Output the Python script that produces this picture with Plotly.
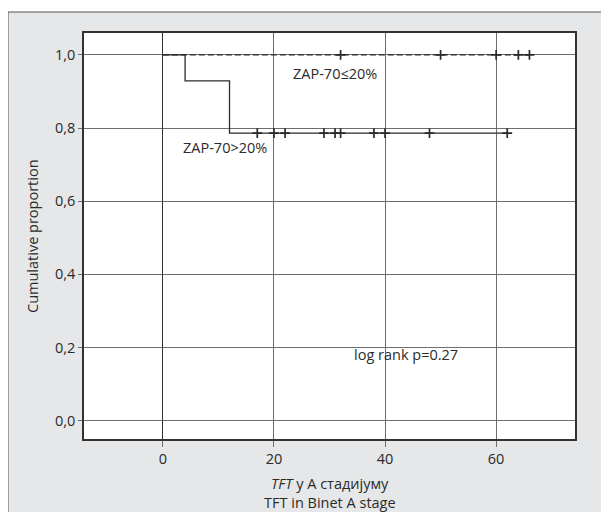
import plotly.graph_objects as go

# ZAP-70 > 20% (solid)
gt_time = [0, 4, 12, 62]
gt_surv = [1.0, 0.929, 0.786, 0.786]
gt_cens_time = [17, 20, 22, 29, 31, 32, 38, 40, 48, 62]
gt_cens_surv = [0.786] * len(gt_cens_time)

# ZAP-70 <= 20% (dashed)
le_time = [0, 66]
le_surv = [1.0, 1.0]
le_cens_time = [32, 50, 60, 64, 66]
le_cens_surv = [1.0] * len(le_cens_time)

x_ticks = [0, 20, 40, 60]
x_ticklabels = ["0", "20", "40", "60"]
y_ticks = [0.0, 0.2, 0.4, 0.6, 0.8, 1.0]
y_ticklabels = ["0,0", "0,2", "0,4", "0,6", "0,8", "1,0"]

FONT = "Open Sans"
FS = 14.5
TXT = "#2b2b2b"
LINE = "#2a2a2a"

# page offset of the figure inside the browser body (default 8px margin)
OX, OY = 8, 8

fig = go.Figure()
fig.add_trace(go.Scatter(x=le_time, y=le_surv, mode="lines", line_shape="hv",
                         line=dict(color=LINE, width=1.3, dash="6px,3px"), showlegend=False))
fig.add_trace(go.Scatter(x=gt_time, y=gt_surv, mode="lines", line_shape="hv",
                         line=dict(color=LINE, width=1.3), showlegend=False))
fig.add_trace(go.Scatter(x=le_cens_time, y=le_cens_surv, mode="markers",
                         marker=dict(symbol="cross-thin", size=7, line=dict(color=LINE, width=1.7)),
                         showlegend=False))
fig.add_trace(go.Scatter(x=gt_cens_time, y=gt_cens_surv, mode="markers",
                         marker=dict(symbol="cross-thin", size=7, line=dict(color=LINE, width=1.7)),
                         showlegend=False))

W, H = 609, 512
# target page-pixel positions of the plot area
PL, PR, PT, PB = 84, 575, 33, 439
L = PL - OX
T = PT - OY
R = W - (PR - OX)
B = H - (PB - OY)
pw, ph = PR - PL, PB - PT

def px_x(p):
    return (p - PL) / pw

def px_y(p):
    return (PB - p) / ph

fig.add_shape(type="rect", xref="paper", yref="paper", layer="below",
              x0=px_x(8), x1=px_x(640), y0=px_y(12), y1=px_y(560),
              fillcolor="#e6e7e8", line=dict(color="#555555", width=1))
fig.add_shape(type="rect", xref="paper", yref="paper", layer="below",
              x0=0, x1=1, y0=0, y1=1, fillcolor="white", line=dict(width=0))

fig.add_annotation(x=23.0, y=0.948, text="ZAP-70≤20%", xanchor="left", yanchor="middle",
                   showarrow=False, font=dict(family=FONT, size=FS, color=TXT))
fig.add_annotation(x=3.3, y=0.746, text="ZAP-70>20%", xanchor="left", yanchor="middle",
                   showarrow=False, font=dict(family=FONT, size=FS, color=TXT))
fig.add_annotation(x=34.0, y=0.18, text="log rank p=0.27", xanchor="left", yanchor="middle",
                   showarrow=False, font=dict(family=FONT, size=FS, color=TXT))

fig.add_annotation(xref="paper", yref="paper", x=px_x(32), y=0.5, text="Cumulative proportion",
                   textangle=-90, showarrow=False, xanchor="center", yanchor="middle",
                   font=dict(family=FONT, size=FS, color=TXT))
fig.add_annotation(xref="paper", yref="paper", x=0.5, y=px_y(484), text="<i>TFT</i> у А стадијуму",
                   showarrow=False, xanchor="center", yanchor="middle",
                   font=dict(family=FONT, size=FS, color=TXT))
fig.add_annotation(xref="paper", yref="paper", x=0.5, y=px_y(502), text="TFT in Binet A stage",
                   showarrow=False, xanchor="center", yanchor="middle",
                   font=dict(family=FONT, size=FS, color=TXT))

fig.update_xaxes(range=[-14.2, 74.2], tickvals=x_ticks, ticktext=x_ticklabels,
                 showgrid=True, gridcolor="#6e6e6e", gridwidth=1,
                 zeroline=True, zerolinecolor="#333333", zerolinewidth=1,
                 showline=True, mirror=True, linecolor="#333333", linewidth=1.5,
                 ticks="outside", ticklen=6, tickcolor="#6e6e6e", tickwidth=1,
                 tickfont=dict(family=FONT, size=FS, color=TXT))
fig.update_yaxes(range=[-0.05, 1.06], tickvals=y_ticks, ticktext=y_ticklabels,
                 showgrid=True, gridcolor="#6e6e6e", gridwidth=1,
                 zeroline=False,
                 showline=True, mirror=True, linecolor="#333333", linewidth=1.5,
                 ticks="outside", ticklen=4, tickcolor="#6e6e6e", tickwidth=1,
                 tickfont=dict(family=FONT, size=FS, color=TXT))

fig.update_layout(width=W, height=H, margin=dict(l=L, r=R, t=T, b=B),
                  paper_bgcolor="white", plot_bgcolor="white", showlegend=False)

fig.write_html("out.html")
